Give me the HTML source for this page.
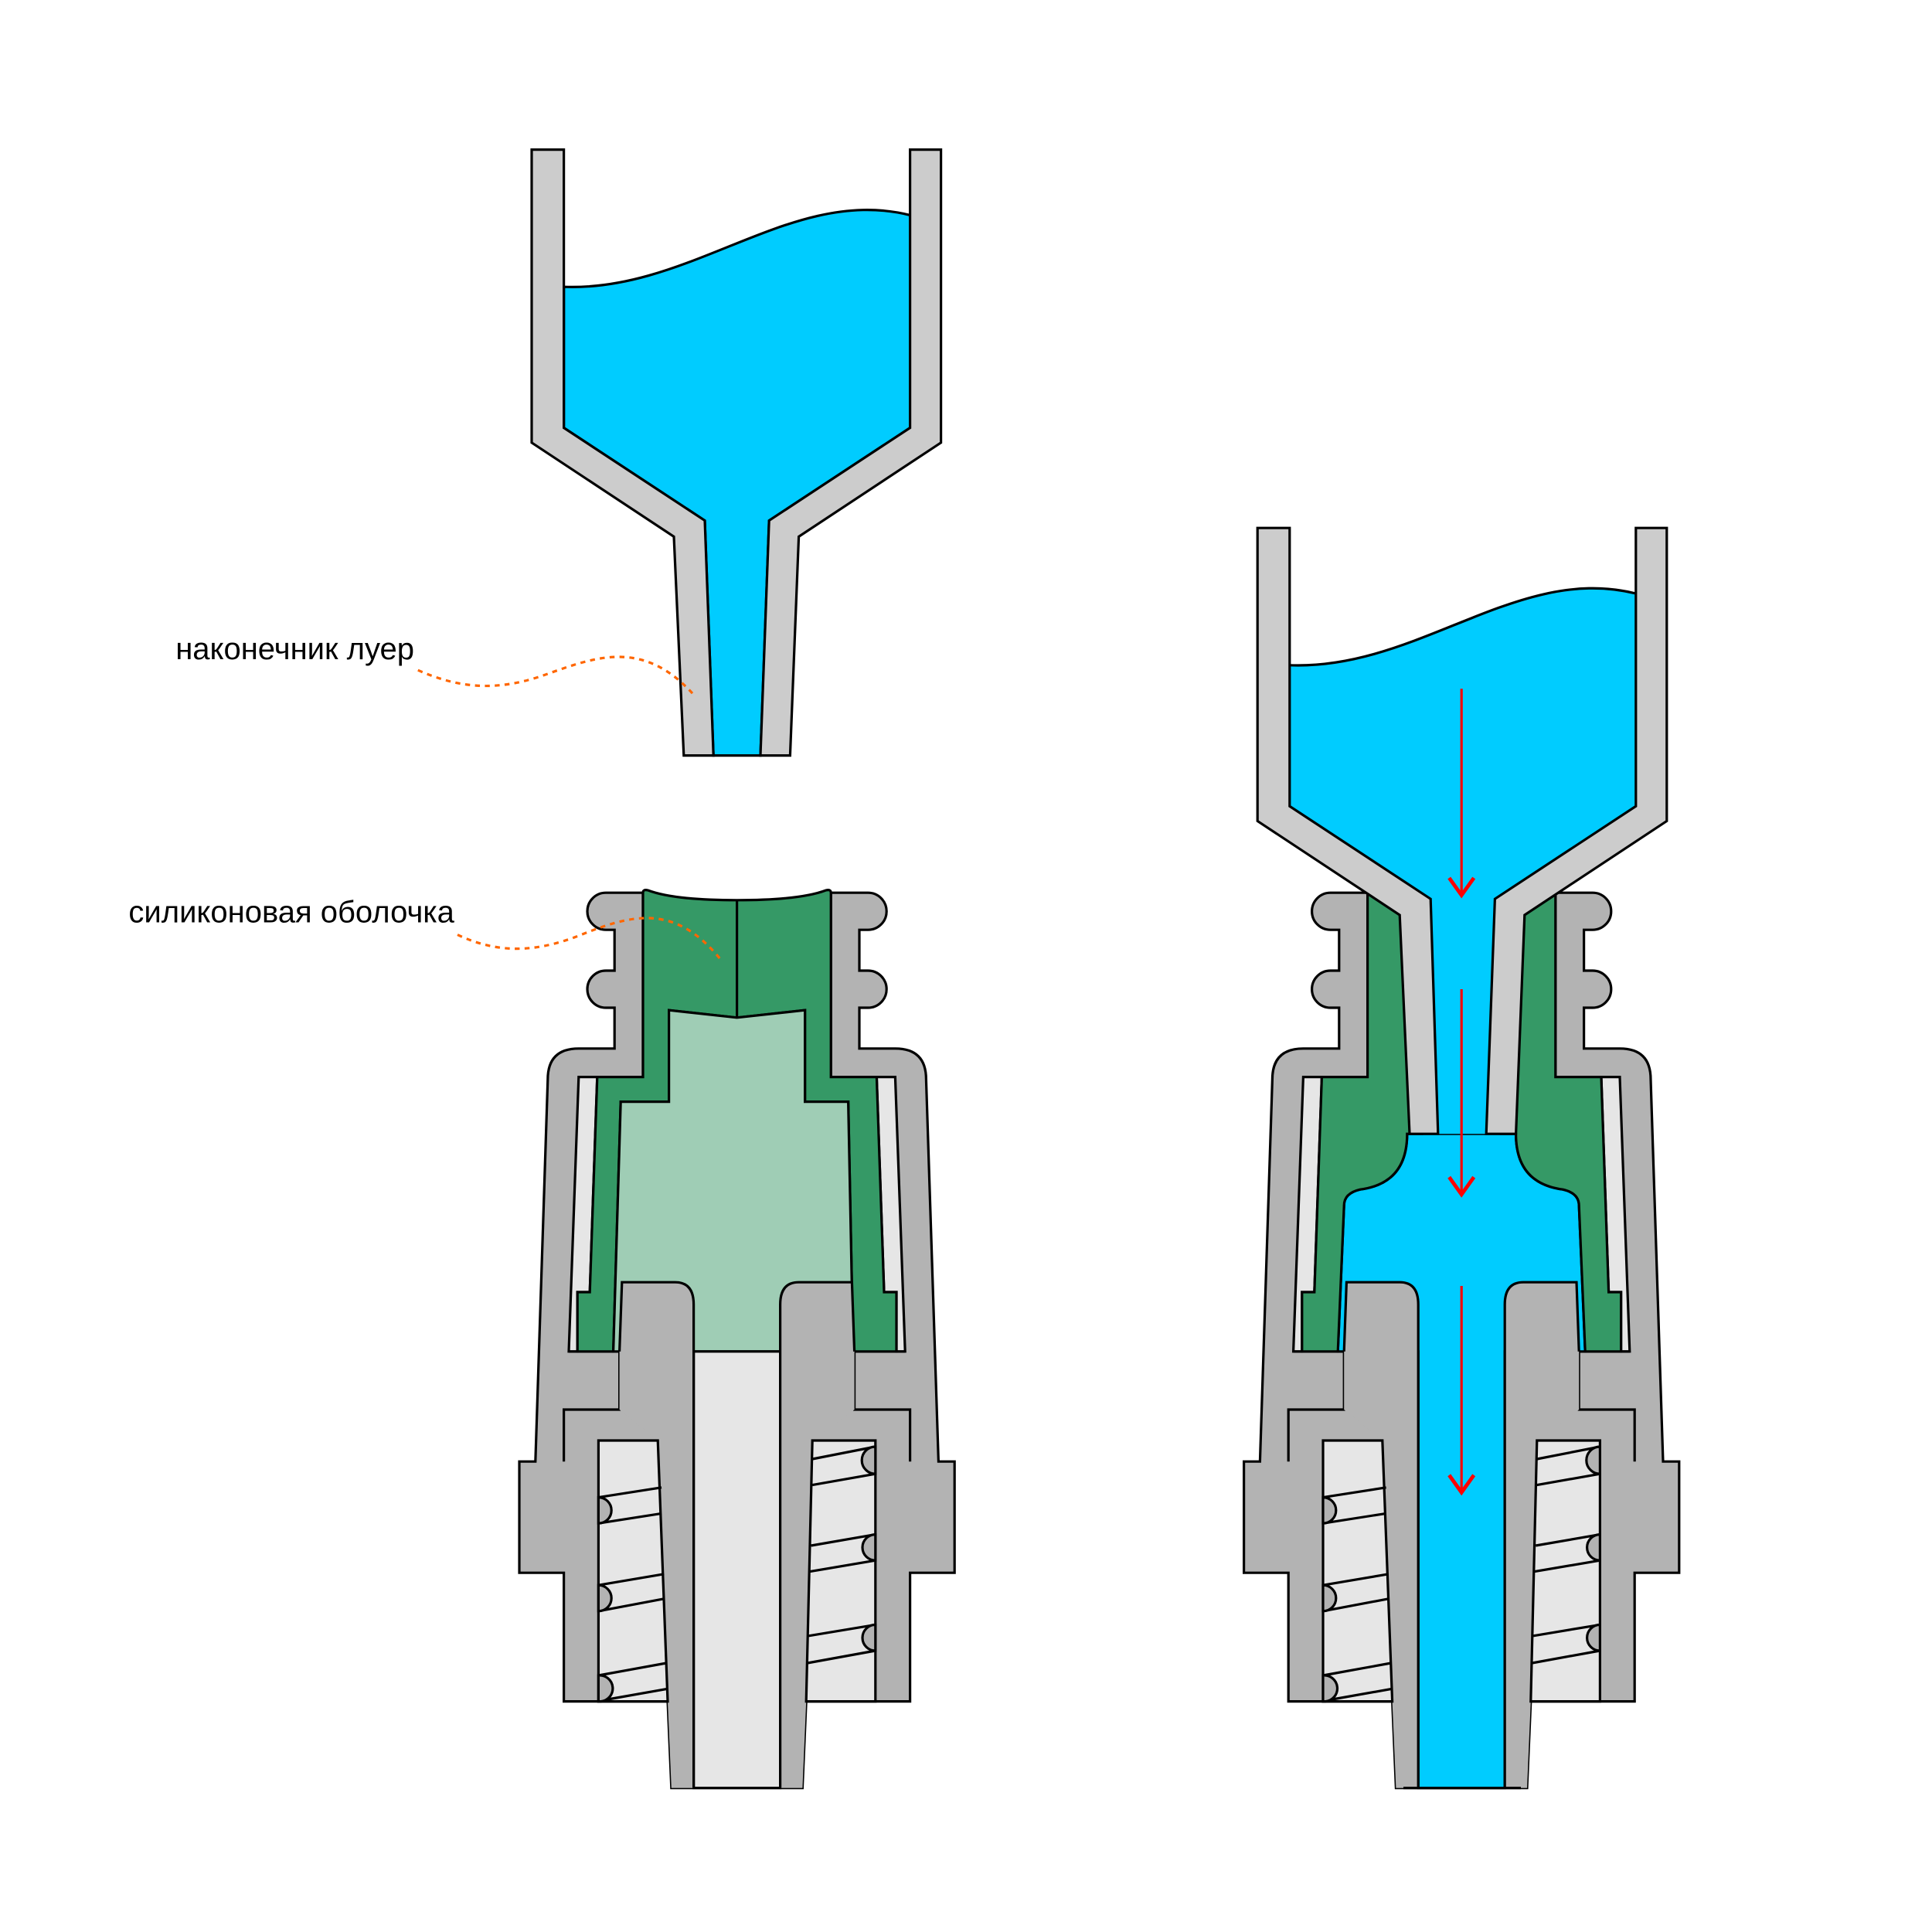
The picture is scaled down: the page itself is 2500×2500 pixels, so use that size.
<!DOCTYPE html>
<html><head><meta charset="utf-8"><style>html,body{margin:0;padding:0;background:#fff}svg{display:block}</style></head>
<body>
<svg width="2500" height="2500" viewBox="0 0 1562.5 1562.5" xmlns="http://www.w3.org/2000/svg" stroke-linejoin="miter">
<defs>
<g id="housing" stroke="#000" stroke-width="2">
  <path fill="#b3b3b3" d="M490 722 H520 V871 H672 V722 H702 A15 15 0 0 1 702 752 H695 V785 H702 A15 15 0 0 1 702 815 H695 V848 H724 Q749 848 749 873 L759 1182 H772 V1272 H736 V1376 H652 L649 1446 H543 L540 1376 H456 V1272 H420 V1182 H433 L443 873 Q443 848 468 848 H497 V815 H490 A15 15 0 0 1 490 785 H497 V752 H490 A15 15 0 0 1 490 722 Z"/>
  <polygon fill="#e6e6e6" points="468,871 483,871 477,1045 467,1045 467,1093 460,1093"/>
  <polygon fill="#e6e6e6" points="724,871 709,871 715,1045 725,1045 725,1093 732,1093"/>
  <path fill="none" d="M460 1093 H501 V1140 H456 V1182 M732 1093 H691 V1140 H736 V1182"/>
</g>
<g id="threads" stroke="#000" stroke-width="2">
  <polygon fill="#e6e6e6" points="484,1165 532,1165 540,1376 484,1376"/>
  <path fill="none" d="M484 1211 L535 1203 M484 1232 L535 1224 M484 1282 L537 1273 M484 1303 L537 1293 M484 1355 L539 1345 M488 1375 L539 1366"/>
  <path fill="#b3b3b3" d="M484 1211 A10.5 10.5 0 0 1 484 1232 Z M484 1282 A10.5 10.5 0 0 1 484 1303 Z M484 1355 A10.5 10.5 0 0 1 486 1376 H484 Z"/>
  <polygon fill="#e6e6e6" points="657,1165 708,1165 708,1376 652,1376"/>
  <path fill="none" d="M657 1180 L708 1170 M657 1201 L708 1192 M656 1250 L708 1241 M655 1271 L708 1262 M654 1323 L708 1314 M653 1345 L708 1335"/>
  <path fill="#b3b3b3" d="M708 1170 A11 11 0 0 0 708 1192 Z M708 1241 A10.5 10.5 0 0 0 708 1262 Z M708 1314 A10.5 10.5 0 0 0 708 1335 Z"/>
</g>
</defs>

<!-- LEFT FUNNEL -->
<g stroke="#000" stroke-width="2">
  <path fill="#00ccff" d="M456 232 C560 236 640 150 736 174 V346 L622 421 L615 611 H577 L570 421 L456 346 Z"/>
  <polygon fill="#cccccc" points="430,121 456,121 456,346 570,421 577,611 553,611 545,434 430,358"/>
  <polygon fill="#cccccc" points="761,121 736,121 736,346 622,421 615,611 639,611 646,434 761,358"/>
</g>

<!-- LEFT CONNECTOR -->
<use href="#housing"/>
<g stroke="#000" stroke-width="2">
  <path fill="#359966" d="M520 722 Q520 719 524 720 Q545 728 596 728 Q647 728 668 720 Q672 719 672 722 V871 H709 L715 1045 H725 V1093 H690 L686 891 H651 V817 L596 823 L541 817 V891 H502 L496 1093 H467 V1045 H477 L483 871 H520 Z"/>
  <line x1="596" y1="728" x2="596" y2="823"/>
  <path fill="#9fcdb5" d="M541 817 L596 823 L651 817 V891 H686 L690 1093 H496 L502 891 H541 Z"/>
  <rect x="561" y="1093" width="70" height="353" fill="#e6e6e6"/>
  <path fill="#b3b3b3" d="M501 1093 L503 1037 H546 Q561 1037 561 1055 V1446 H543 L540 1376 L532 1165 L501 1140 Z" stroke="none"/>
  <path fill="none" d="M501 1093 L503 1037 H546 Q561 1037 561 1055 V1446"/>
  <path fill="#b3b3b3" d="M691 1093 L689 1037 H646 Q631 1037 631 1055 V1446 H649 L652 1376 L657 1165 L691 1140 Z" stroke="none"/>
  <path fill="none" d="M691 1093 L689 1037 H646 Q631 1037 631 1055 V1446"/>
</g>
<use href="#threads"/>

<!-- RIGHT CONNECTOR -->
<g transform="translate(586 0)"><use href="#housing"/></g>
<g stroke="#000" stroke-width="2">
  <path fill="#00ccff" d="M1138 917 Q1138 957 1100 962 Q1087 965 1087 975 L1082 1093 H1147 V1446 H1217 V1093 H1282 L1277 975 Q1277 965 1264 962 Q1226 957 1226 917 Z"/>
  <path fill="#359966" d="M1106 722 H1150 V917 H1138 Q1138 957 1100 962 Q1087 965 1087 975 L1082 1093 H1053 V1045 H1063 L1069 871 H1106 Z"/>
  <path fill="#359966" d="M1258 722 H1214 V917 H1226 Q1226 957 1264 962 Q1277 965 1277 975 L1282 1093 H1311 V1045 H1301 L1295 871 H1258 Z"/>
  <path fill="#b3b3b3" stroke="none" d="M1087 1093 L1089 1037 H1132 Q1147 1037 1147 1055 V1446 H1129 L1126 1376 L1118 1165 L1087 1140 Z"/>
  <path fill="none" d="M1087 1093 L1089 1037 H1132 Q1147 1037 1147 1055 V1446"/>
  <path fill="#b3b3b3" stroke="none" d="M1277 1093 L1275 1037 H1232 Q1217 1037 1217 1055 V1446 H1235 L1238 1376 L1243 1165 L1277 1140 Z"/>
  <path fill="none" d="M1277 1093 L1275 1037 H1232 Q1217 1037 1217 1055 V1446"/>
  <line x1="1135" y1="1446" x2="1230" y2="1446"/>
</g>
<g transform="translate(586 0)"><use href="#threads"/></g>

<!-- RIGHT FUNNEL -->
<g stroke="#000" stroke-width="2">
  <path fill="#00ccff" stroke="none" d="M1043 538 C1147 542 1227 456 1323 480 V652 L1209 727 L1202 917 H1163 L1157 727 L1043 652 Z"/>
  <path fill="none" d="M1043 538 C1147 542 1227 456 1323 480"/>
  <polygon fill="#cccccc" points="1017,427 1043,427 1043,652 1157,727 1163,917 1140,917 1132,740 1017,664"/>
  <polygon fill="#cccccc" points="1348,427 1323,427 1323,652 1209,727 1202,917 1226,917 1233,740 1348,664"/>
</g>

<!-- Arrows -->
<g stroke="#ff0000" stroke-width="2" fill="none">
  <line x1="1182" y1="557" x2="1182" y2="725"/>
  <polyline stroke-width="3" points="1172,710 1182,724 1192,710"/>
  <line x1="1182" y1="800" x2="1182" y2="967"/>
  <polyline stroke-width="3" points="1172,952 1182,966 1192,952"/>
  <line x1="1182" y1="1040" x2="1182" y2="1208"/>
  <polyline stroke-width="3" points="1172,1193 1182,1207 1192,1193"/>
</g>

<!-- Labels -->
<g font-family="Liberation Sans, DejaVu Sans, sans-serif" font-size="25" fill="#000">
  <text x="142" y="533">наконечник луер</text>
  <text x="104" y="746">силиконовая оболочка</text>
</g>
<g stroke="#ff6600" stroke-width="2" fill="none" stroke-dasharray="4 4">
  <path d="M338 542 C370 556 400 560 440 546 S520 515 562 563"/>
  <path d="M370 756 C400 770 430 772 470 756 S545 730 582 775"/>
</g>
</svg>
</body></html>
